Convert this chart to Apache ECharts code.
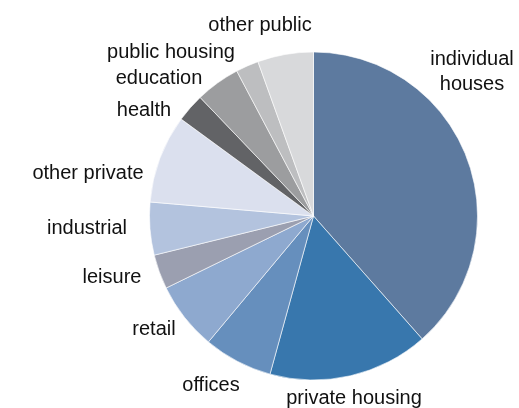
<!DOCTYPE html>
<html>
<head>
<meta charset="utf-8">
<script src="https://cdn.jsdelivr.net/npm/echarts@6/dist/echarts.min.js"></script>
<style>
  html, body { margin: 0; padding: 0; background: #fff; }
  #chart { width: 519px; height: 408px; }
</style>
</head>
<body>
<div id="chart"></div>
<script>
// Construction output by sector, share of total (%)
const categories = [
  'individual\nhouses', 'private housing', 'offices', 'retail', 'leisure',
  'industrial', 'other private', 'health', 'education', 'public housing', 'other public'
];
const shares = [38.5, 15.8, 6.8, 6.7, 3.4, 5.2, 8.7, 2.8, 4.4, 2.25, 5.5];

const sliceColors = [
  '#5d7a9f', '#3877ad', '#668fbd', '#8ea9cf', '#9b9fb0',
  '#b3c3de', '#dbe0ee', '#626366', '#9c9d9f', '#bdbec0', '#d8d9db'
];

// Hand-placed label anchors (text centre, px)
const labelX = [472, 354, 211, 154, 112, 87, 88, 144, 159, 171, 260];
const labelY = [72, 398, 385, 329, 277, 228, 173, 110, 78, 52, 25];

const chart = echarts.init(document.getElementById('chart'), null, { renderer: 'canvas' });

chart.setOption({
  animation: false,
  backgroundColor: '#ffffff',
  series: [{
    type: 'pie',
    center: [313.5, 216],
    radius: [0, 164],
    startAngle: 90,
    clockwise: true,
    avoidLabelOverlap: false,
    itemStyle: { borderColor: '#ffffff', borderWidth: 0.6 },
    label: {
      show: true,
      position: 'outside',
      color: '#111111',
      fontFamily: 'Liberation Sans, Arial, sans-serif',
      fontSize: 20,
      lineHeight: 25,
      align: 'center'
    },
    labelLine: { show: false },
    labelLayout: function (p) {
      return {
        x: labelX[p.dataIndex],
        y: labelY[p.dataIndex],
        align: 'center',
        verticalAlign: 'middle'
      };
    },
    data: categories.map((name, i) => ({
      name: name,
      value: shares[i],
      itemStyle: { color: sliceColors[i] }
    }))
  }]
});
</script>
</body>
</html>
